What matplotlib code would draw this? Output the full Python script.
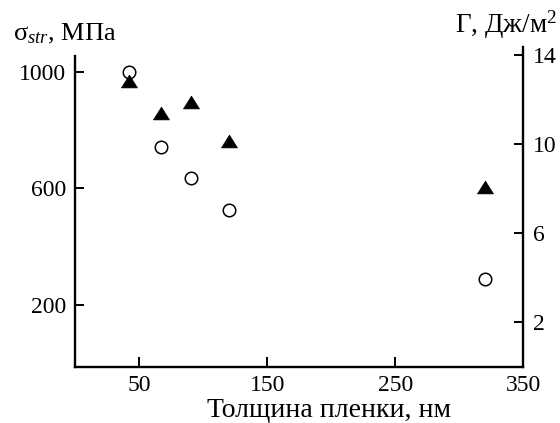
import matplotlib
matplotlib.use("Agg")
import matplotlib.pyplot as plt

plt.rcParams['font.family'] = ['Liberation Serif', 'DejaVu Serif']
plt.rcParams['mathtext.fontset'] = 'custom'
plt.rcParams['mathtext.rm'] = 'Liberation Serif'
plt.rcParams['mathtext.it'] = 'Liberation Serif:italic'

# Data
thickness = [42, 67, 90, 120, 320]
sigma_str = [1000, 743, 636, 526, 289]          # MPa, open circles (left axis)
gamma = [12.85, 11.4, 11.9, 10.15, 8.1]          # J/m^2, filled triangles (right axis)

x_ticks = [50, 150, 250, 350]
left_ticks = [200, 600, 1000]
right_ticks = [2, 6, 10, 14]

fig = plt.figure(figsize=(5.6, 4.23), dpi=100)
ax = fig.add_axes([0.1348, 0.1324, 0.934 - 0.1348, 0.8889 - 0.1324])
ax2 = ax.twinx()

lw = 1.7
tri = [(-1, -0.8), (1, -0.8), (0, 0.8), (-1, -0.8)]

ax.plot(thickness, sigma_str, linestyle='none', marker='o', markersize=9,
        markerfacecolor='white', markeredgecolor='black', markeredgewidth=1.1, zorder=3)
ax2.plot(thickness, gamma, linestyle='none', marker=tri, markersize=11.5,
         markerfacecolor='black', markeredgecolor='black', markeredgewidth=0.5, zorder=3)

ax.set_xlim(0, 350)
ax.set_ylim(-12, 1085)
ax2.set_ylim(0, 14.37)

ax.set_xticks(x_ticks)
ax.set_yticks(left_ticks)
ax2.set_yticks(right_ticks)

for a in (ax, ax2):
    a.spines['top'].set_visible(False)
    for s in a.spines.values():
        s.set_linewidth(lw)
ax.spines['right'].set_visible(False)
ax2.spines['left'].set_visible(False)
ax2.spines['bottom'].set_visible(False)
ax.spines['left'].set_bounds(-12, 1054)

ax.tick_params(axis='x', direction='in', length=7, width=1.4, pad=6, labelsize=17)
ax.tick_params(axis='y', direction='in', length=6.5, width=1.4, pad=7, labelsize=17)
ax2.tick_params(axis='y', direction='in', length=6.5, width=1.4, pad=7, labelsize=17)

fig.text(13 / 560, (423 - 40) / 423, r'$\mathrm{\sigma}_{str}$, МПа', fontsize=19,
         ha='left', va='baseline')
fig.text(557 / 560, (423 - 33) / 423, r'Γ, Дж/м$^2$', fontsize=19.5,
         ha='right', va='baseline')
fig.text(329 / 560, (423 - 417) / 423, 'Толщина пленки, нм', fontsize=20,
         ha='center', va='baseline')

fig.savefig('out.png', dpi=100)
